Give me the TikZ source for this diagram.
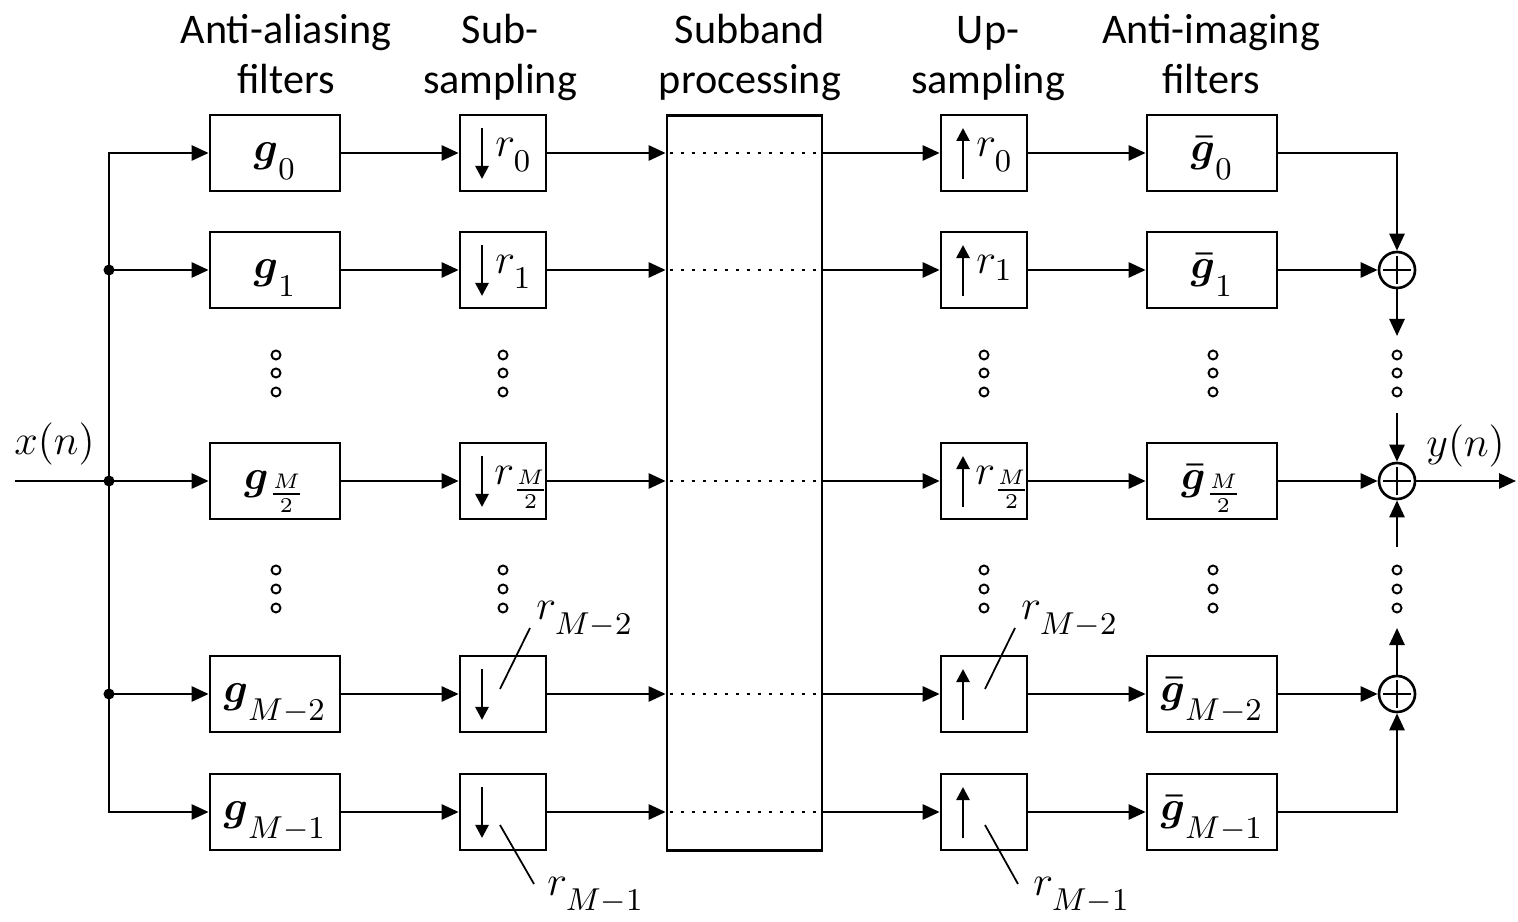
\documentclass[tikz,border=0pt]{standalone}
\usepackage{amsmath}
\usepackage[no-math]{fontspec}
\newfontfamily\hdrfont{Carlito}
\usetikzlibrary{arrows.meta,calc}
% subscript set a little lower than the usual one
\newcommand{\lsub}[1]{_{\raisebox{-2.4pt}{$\scriptstyle #1$}}}
\begin{document}
\begin{tikzpicture}[x=0.01cm, y=-0.01cm, line width=0.75pt, line join=miter,
  every node/.style={inner sep=0pt, font=\fontsize{12.3}{14.2}\selectfont},
  arr/.style={-{Triangle[length=0.17cm,width=0.15cm]}},
  inarr/.style={-{Triangle[length=0.13cm,width=0.13cm]}},
  filt/.style={draw, minimum width=1.30cm, minimum height=0.76cm, text height=7pt, text depth=2.4pt},
  rate/.style={draw, minimum width=0.86cm, minimum height=0.76cm},
  adder/.style={circle, draw, minimum size=0.36cm, path picture={
     \draw ([xshift=-0.14cm]path picture bounding box.center) -- ([xshift=0.14cm]path picture bounding box.center)
           ([yshift=-0.14cm]path picture bounding box.center) -- ([yshift=0.14cm]path picture bounding box.center);}},
  hdr/.style={anchor=north, align=center, font=\hdrfont\fontsize{12}{14.2}\selectfont},
  tag/.style={anchor=base west},
  leader/.style={line width=0.5pt},
  gap/.style={line width=0.55pt},
  fine/.style={line width=0.8pt, dash pattern=on 0.03cm off 0.08cm, shorten <=0.04cm, shorten >=0.03cm},
]
\useasboundingbox (0,0) rectangle (1518,922);

% column headings
\node[hdr] (hA) at (286,7)  {\strut Anti-aliasing\\filters};
\node[hdr] (hB) at (500,7)  {\strut Sub-\\sampling};
\node[hdr] (hC) at (750,7)  {\strut Subband\\processing};
\node[hdr] (hD) at (988,7)  {\strut Up-\\sampling};
\node[hdr] (hE) at (1211,7) {\strut Anti-imaging\\filters};

% analysis filters
\node[filt] (g0) at (275,153) {$\boldsymbol{g}\lsub{0}$};
\node[filt] (g1) at (275,270) {$\boldsymbol{g}\lsub{1}$};
\node[filt] (gm) at (275,481) {$\boldsymbol{g}_{\frac{M}{2}}$};
\node[filt] (g2) at (275,694) {$\boldsymbol{g}\lsub{M-2}$};
\node[filt] (g3) at (275,812) {$\boldsymbol{g}\lsub{M-1}$};

% decimators
\node[rate] (s0) at (503,153) {};
\node[rate] (s1) at (503,270) {};
\node[rate] (sm) at (503,481) {};
\node[rate] (s2) at (503,694) {};
\node[rate] (s3) at (503,812) {};

% subband processing block
\node[draw, minimum width=1.55cm, minimum height=7.35cm] (sb) at (744.5,483) {};

% expanders
\node[rate] (u0) at (984,153) {};
\node[rate] (u1) at (984,270) {};
\node[rate] (um) at (984,481) {};
\node[rate] (u2) at (984,694) {};
\node[rate] (u3) at (984,812) {};

% synthesis filters
\node[filt] (h0) at (1212,153) {$\boldsymbol{\bar g}\lsub{0}$};
\node[filt] (h1) at (1212,270) {$\boldsymbol{\bar g}\lsub{1}$};
\node[filt] (hm) at (1212,481) {$\boldsymbol{\bar g}_{\frac{M}{2}}$};
\node[filt] (h2) at (1212,694) {$\boldsymbol{\bar g}\lsub{M-2}$};
\node[filt] (h3) at (1212,812) {$\boldsymbol{\bar g}\lsub{M-1}$};

% adders
\node[adder] (p1) at (1397,270) {};
\node[adder] (pm) at (1397,481) {};
\node[adder] (p2) at (1397,694) {};

% arrows inside the rate changers
\foreach \n in {s0,s1,sm,s2,s3}
  \draw[inarr] ($(\n.center)+(-21,-25)$) -- ($(\n.center)+(-21,26)$);
\foreach \n in {u0,u1,um,u2,u3}
  \draw[inarr] ($(\n.center)+(-21,26)$) -- ($(\n.center)+(-21,-25)$);

% rate labels inside the boxes
\node[tag] (s0t) at ($(s0.center)+(-9,4)$) {$r\lsub{0}$};
\node[tag] (s1t) at ($(s1.center)+(-9,4)$) {$r\lsub{1}$};
\node[tag] (smt) at ($(sm.center)+(-10,4)$) {$r_{\frac{M}{2}}$};
\node[tag] (u0t) at ($(u0.center)+(-9,4)$) {$r\lsub{0}$};
\node[tag] (u1t) at ($(u1.center)+(-9,4)$) {$r_1$};
\node[tag] (umt) at ($(um.center)+(-10,4)$) {$r_{\frac{M}{2}}$};

% rate labels outside the boxes, with leader lines
\node[tag] (s2t) at (535,620) {$r\lsub{M-2}$};
\node[tag] (s3t) at (546,896) {$r\lsub{M-1}$};
\node[tag] (u2t) at (1020,620) {$r\lsub{M-2}$};
\node[tag] (u3t) at (1032,896) {$r\lsub{M-1}$};
\draw[leader] ($(s2.center)+(-3,-5)$) -- ($(s2t.base west)+(-5,8)$);
\draw[leader] ($(s3.center)+(-3,13)$) -- ($(s3t.base west)+(-12,-12)$);
\draw[leader] ($(u2.center)+(1,-5)$) -- ($(u2t.base west)+(-5,8)$);
\draw[leader] ($(u3.center)+(1,13)$) -- ($(u3t.base west)+(-14,-12)$);

% input and distribution trunk
\coordinate (xin) at (15,481);
\coordinate (t0) at (109,153);
\coordinate (t1) at (109,270);
\coordinate (tm) at (109,481);
\coordinate (t2) at (109,694);
\coordinate (t3) at (109,812);
\node[tag] (xl) at (13,455) {$x(n)$};
\draw (xin) -- (tm);
\draw[arr] (tm) -- (t0) -- (g0.west);
\draw[arr] (tm) -- (t3) -- (g3.west);
\draw[arr] (t1) -- (g1.west);
\draw[arr] (tm) -- (gm.west);
\draw[arr] (t2) -- (g2.west);
\foreach \c in {t1,tm,t2} \fill (\c) circle[radius=0.055cm];

% signal paths through each channel
\foreach \r in {0,1,m,2,3} {
  \draw[arr] (g\r.east) -- (s\r.west);
  \draw[arr] (s\r.east) -- (s\r.east -| sb.west);
  \draw[fine] (s\r.east -| sb.west) -- (s\r.east -| sb.east);
  \draw[arr] (s\r.east -| sb.east) -- (u\r.west);
  \draw[arr] (u\r.east) -- (h\r.west);
}

% summation chain and output
\coordinate (c1) at (1397,336);
\coordinate (c2) at (1397,413);
\coordinate (c3) at (1397,547);
\coordinate (c4) at (1397,628);
\coordinate (yout) at (1516,481);
\draw[arr] (h0.east) -| (p1.north);
\draw[arr] (h1.east) -- (p1.west);
\draw[arr] (p1.south) -- (c1);
\draw[arr] (c2) -- (pm.north);
\draw[arr] (hm.east) -- (pm.west);
\draw[arr] (c3) -- (pm.south);
\draw[arr] (p2.north) -- (c4);
\draw[arr] (h2.east) -- (p2.west);
\draw[arr] (h3.east) -| (p2.south);
\draw[arr] (pm.east) -- (yout);
\node[tag] (yl) at (1425,457) {$y(n)$};

% vertical ellipses between the channels
\foreach \x in {276,503,984,1213,1397}
  \foreach \y in {355,373,392,570,589,608}
    \draw[gap] (\x,\y) circle[radius=0.045cm];
\end{tikzpicture}
\end{document}
